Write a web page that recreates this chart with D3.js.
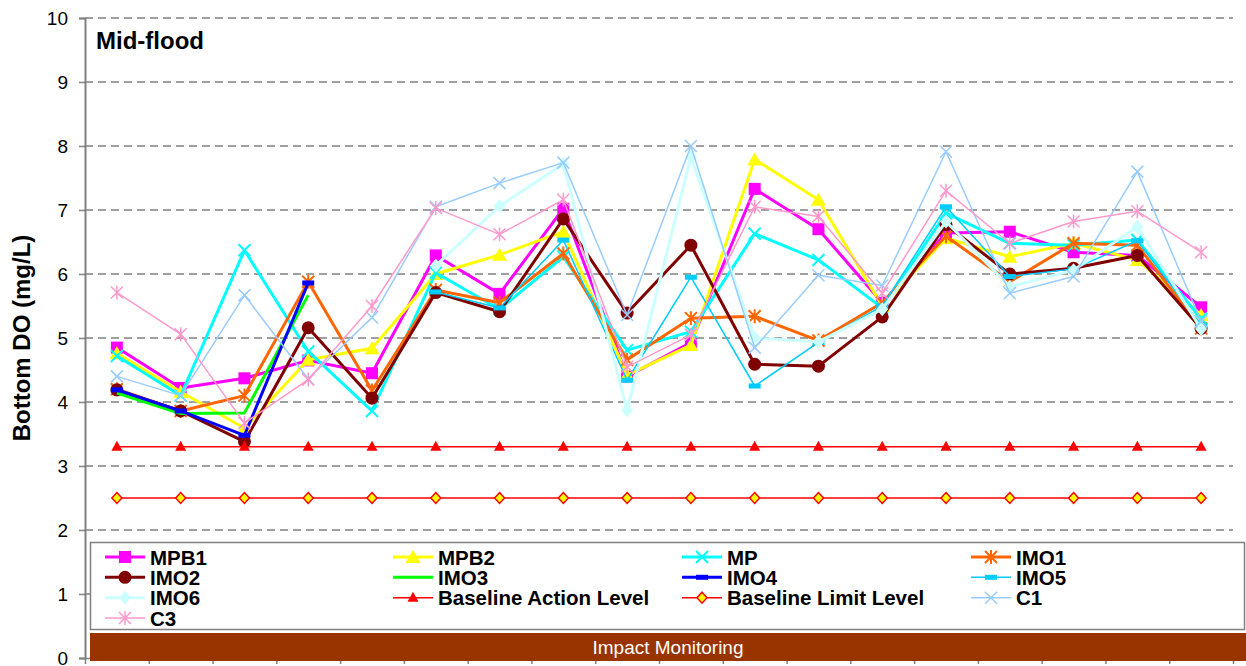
<!DOCTYPE html>
<html>
<head>
<meta charset="utf-8">
<script src="https://cdn.jsdelivr.net/npm/d3@7"></script>
<style>
  html, body { margin: 0; padding: 0; background: #fff; }
  svg { display: block; font-family: "Liberation Sans", Arial, sans-serif; }
</style>
</head>
<body>
<svg id="chart" width="1246" height="666"></svg>
<script>
// ---- data ----
const categories = ["E1","E2","E3","E4","E5","E6","E7","E8","E9","E10","E11","E12","E13","E14","E15","E16","E17","E18"];
const yTicks = [0,1,2,3,4,5,6,7,8,9,10];

const MPB1 = [4.85,4.22,4.37,4.65,4.45,6.29,5.69,7.02,4.40,4.93,7.33,6.70,5.55,6.64,6.66,6.34,6.29,5.48];
const MPB2 = [4.76,4.16,3.59,4.66,4.84,6.00,6.30,6.66,4.42,4.89,7.79,7.16,5.50,6.56,6.27,6.48,6.22,5.36];
const MP   = [4.72,4.10,6.37,4.79,3.86,6.02,5.45,6.27,4.81,5.10,6.63,6.22,5.47,6.95,6.48,6.45,6.53,5.30];
const IMO1 = [4.20,3.86,4.10,5.88,4.18,5.75,5.55,6.32,4.66,5.31,5.34,4.96,5.55,6.59,5.88,6.48,6.45,5.15];
const IMO2 = [4.19,3.86,3.38,5.16,4.06,5.71,5.41,6.86,5.39,6.45,4.59,4.56,5.33,6.77,6.00,6.09,6.29,5.15];
const IMO3 = [4.14,3.82,3.83,5.67,null,null,null,null,null,null,null,null,null,null,null,null,null,null];
const IMO4 = [4.19,3.86,3.48,5.86,null,null,null,null,null,null,null,null,null,null,null,null,null,null];
const IMO5 = [null,null,null,null,null,5.72,5.47,6.53,4.34,5.95,4.25,4.93,5.50,7.05,5.96,6.08,6.52,5.20];
const IMO6 = [null,null,null,null,null,6.13,7.06,7.72,3.87,7.83,5.00,4.94,5.45,6.82,5.80,6.06,6.74,5.14];
const BAL  = [3.3,3.3,3.3,3.3,3.3,3.3,3.3,3.3,3.3,3.3,3.3,3.3,3.3,3.3,3.3,3.3,3.3,3.3];
const BLL  = [2.5,2.5,2.5,2.5,2.5,2.5,2.5,2.5,2.5,2.5,2.5,2.5,2.5,2.5,2.5,2.5,2.5,2.5];
const C1   = [4.40,4.10,5.67,4.36,5.32,7.05,7.42,7.74,5.36,8.00,4.85,5.98,5.82,7.91,5.70,5.96,7.60,5.26];
const C3   = [5.71,5.06,3.67,4.35,5.50,7.03,6.62,7.16,4.55,5.05,7.05,6.90,5.70,7.30,6.48,6.82,6.98,6.34];

const seriesNames = ["MPB1","MPB2","MP","IMO1","IMO2","IMO3","IMO4","IMO5","IMO6","Baseline Action Level","Baseline Limit Level","C1","C3"];
const seriesValues = [MPB1,MPB2,MP,IMO1,IMO2,IMO3,IMO4,IMO5,IMO6,BAL,BLL,C1,C3];

// ---- styles ----
const styles = {
  "MPB1": {color:"#FF00FF", w:3, marker:"square"},
  "MPB2": {color:"#FFFF00", w:3, marker:"triangle"},
  "MP":   {color:"#00FFFF", w:3, marker:"x"},
  "IMO1": {color:"#FF6600", w:3, marker:"star"},
  "IMO2": {color:"#800000", w:3, marker:"circle"},
  "IMO3": {color:"#00FF00", w:3, marker:"none"},
  "IMO4": {color:"#0000FF", w:3, marker:"dash"},
  "IMO5": {color:"#00CCFF", w:1.5, marker:"dash"},
  "IMO6": {color:"#CCFFFF", w:3, marker:"diamond"},
  "Baseline Action Level": {color:"#FF0000", w:1.5, marker:"triangleSmall"},
  "Baseline Limit Level": {color:"#FF0000", w:1.5, marker:"diamondSmall"},
  "C1":   {color:"#99CCFF", w:1.5, marker:"xThin"},
  "C3":   {color:"#FF99CC", w:1.5, marker:"starThin"}
};

const svg = d3.select("#chart");
const mLeft = 85, mRight = 1233, mTop = 18, mBottom = 658;

const xEdge = d3.scaleLinear().domain([0, categories.length]).range([mLeft, mRight]);
const x = d3.scalePoint().domain(categories).range([xEdge(0.5), xEdge(categories.length - 0.5)]);
const y = d3.scaleLinear().domain([0, 10]).range([mBottom, mTop]);

// gridlines
svg.append("g").selectAll("line").data(yTicks.filter(d => d > 0)).join("line")
  .attr("x1", mLeft).attr("x2", mRight)
  .attr("y1", d => y(d)).attr("y2", d => y(d))
  .attr("stroke", "#404040").attr("stroke-width", 1).attr("stroke-dasharray", "8,5");

// y axis
const yAxis = svg.append("g").attr("transform", `translate(${mLeft},0)`)
  .call(d3.axisLeft(y).tickValues(yTicks).tickFormat(d3.format("d")).tickSize(6).tickPadding(11));
yAxis.select(".domain").attr("stroke", "#808080").attr("stroke-width", 2);
yAxis.selectAll(".tick line").attr("stroke", "#808080").attr("stroke-width", 1.5);
yAxis.selectAll(".tick text").attr("font-size", 19).attr("fill", "#000")
  .attr("font-family", "Liberation Sans, Arial, sans-serif");

// x axis (ticks at category edges)
const xAxis = svg.append("g").attr("transform", `translate(0,${mBottom})`)
  .call(d3.axisBottom(xEdge).tickValues(d3.range(categories.length + 1)).tickFormat("").tickSize(6).tickSizeOuter(0));
xAxis.select(".domain").attr("stroke", "#808080").attr("stroke-width", 1.5);
xAxis.selectAll(".tick line").attr("stroke", "#808080").attr("stroke-width", 1.5);

// y title
svg.append("text")
  .attr("transform", `translate(30,${(mTop + mBottom) / 2}) rotate(-90)`)
  .attr("text-anchor", "middle").attr("font-size", 24).attr("font-weight", "bold")
  .text("Bottom DO (mg/L)");

// chart label
svg.append("text").attr("x", 96).attr("y", 49)
  .attr("font-size", 24).attr("font-weight", "bold").text("Mid-flood");

// markers
function drawMarker(g, type, color, cx, cy) {
  switch (type) {
    case "square":
      g.append("rect").attr("x", cx - 6).attr("y", cy - 6).attr("width", 12).attr("height", 12).attr("fill", color);
      break;
    case "triangle":
      g.append("path").attr("d", `M${cx},${cy-7}L${cx+7.5},${cy+6}L${cx-7.5},${cy+6}Z`).attr("fill", color);
      break;
    case "triangleSmall":
      g.append("path").attr("d", `M${cx},${cy-6}L${cx+5.5},${cy+4}L${cx-5.5},${cy+4}Z`).attr("fill", color);
      break;
    case "x":
      g.append("path").attr("d", `M${cx-6},${cy-6}L${cx+6},${cy+6}M${cx-6},${cy+6}L${cx+6},${cy-6}`)
        .attr("stroke", color).attr("stroke-width", 2).attr("fill", "none");
      break;
    case "xThin":
      g.append("path").attr("d", `M${cx-6},${cy-6}L${cx+6},${cy+6}M${cx-6},${cy+6}L${cx+6},${cy-6}`)
        .attr("stroke", color).attr("stroke-width", 1.5).attr("fill", "none");
      break;
    case "star":
      g.append("path").attr("d", `M${cx-6},${cy-6}L${cx+6},${cy+6}M${cx-6},${cy+6}L${cx+6},${cy-6}M${cx},${cy-7}L${cx},${cy+7}`)
        .attr("stroke", color).attr("stroke-width", 2).attr("fill", "none");
      break;
    case "starThin":
      g.append("path").attr("d", `M${cx-6},${cy-6}L${cx+6},${cy+6}M${cx-6},${cy+6}L${cx+6},${cy-6}M${cx},${cy-7}L${cx},${cy+7}`)
        .attr("stroke", color).attr("stroke-width", 1.5).attr("fill", "none");
      break;
    case "circle":
      g.append("circle").attr("cx", cx).attr("cy", cy).attr("r", 6.5).attr("fill", color);
      break;
    case "dash":
      g.append("rect").attr("x", cx - 6).attr("y", cy - 2.5).attr("width", 12).attr("height", 5).attr("fill", color);
      break;
    case "diamond":
      g.append("path").attr("d", `M${cx},${cy-7}L${cx+6},${cy}L${cx},${cy+7}L${cx-6},${cy}Z`).attr("fill", color);
      break;
    case "diamondSmall":
      g.append("path").attr("d", `M${cx},${cy-5.5}L${cx+5},${cy}L${cx},${cy+5.5}L${cx-5},${cy}Z`)
        .attr("fill", "#FFFF00").attr("stroke", color).attr("stroke-width", 1.5);
      break;
  }
}

// series
const line = d3.line().defined(d => d.v !== null).x(d => x(d.c)).y(d => y(d.v));
seriesNames.forEach((name, si) => {
  const st = styles[name];
  const data = categories.map((c, i) => ({c, v: seriesValues[si][i]}));
  const g = svg.append("g");
  g.append("path").datum(data).attr("d", line)
    .attr("fill", "none").attr("stroke", st.color).attr("stroke-width", st.w)
    .attr("stroke-linejoin", "round");
  data.filter(d => d.v !== null).forEach(d => drawMarker(g, st.marker, st.color, x(d.c), y(d.v)));
});

// legend
const legend = svg.append("g");
legend.append("rect").attr("x", 90.5).attr("y", 542.5).attr("width", 1154).attr("height", 87)
  .attr("fill", "#fff").attr("stroke", "#808080").attr("stroke-width", 1.5);
const colX = [105, 393, 682, 971];
const rowY = [557, 577.3, 597.7, 618];
seriesNames.forEach((name, i) => {
  const st = styles[name];
  const cx = colX[i % 4], cy = rowY[Math.floor(i / 4)];
  const g = legend.append("g");
  g.append("line").attr("x1", cx).attr("x2", cx + 40).attr("y1", cy).attr("y2", cy)
    .attr("stroke", st.color).attr("stroke-width", st.w);
  drawMarker(g, st.marker, st.color, cx + 20, cy);
  g.append("text").attr("x", cx + 45).attr("y", cy + 7.5)
    .attr("font-size", 20.5).attr("font-weight", "bold").text(name);
});

// bottom band
svg.append("rect").attr("x", 90).attr("y", 633).attr("width", 1156).attr("height", 28).attr("fill", "#993300");
svg.append("text").attr("x", 668).attr("y", 654).attr("text-anchor", "middle")
  .attr("font-size", 19).attr("fill", "#fff").text("Impact Monitoring");
</script>
</body>
</html>
